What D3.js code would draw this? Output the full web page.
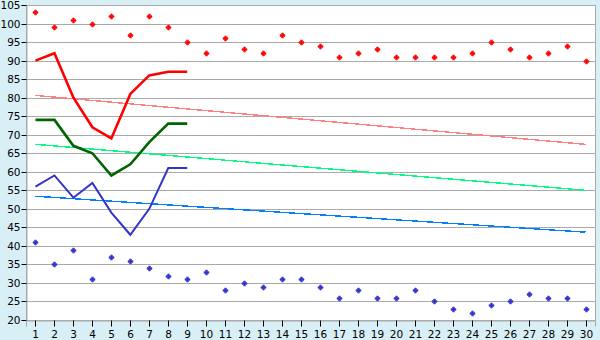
<!DOCTYPE html>
<html>
<head>
<meta charset="utf-8">
<script src="https://cdn.jsdelivr.net/npm/d3@7/dist/d3.min.js"></script>
<style>
  body { margin: 0; background: #d9eff6; }
  svg { display: block; font-family: "DejaVu Sans", Verdana, sans-serif; }
</style>
</head>
<body>
<svg id="chart" width="600" height="340"></svg>
<script>
// categories (x axis)
const days = [1, 2, 3, 4, 5, 6, 7, 8, 9, 10, 11, 12, 13, 14, 15,
  16, 17, 18, 19, 20, 21, 22, 23, 24, 25, 26, 27, 28, 29, 30];
const yTicks = [20, 25, 30, 35, 40, 45, 50, 55, 60, 65, 70, 75, 80, 85, 90, 95, 100, 105];

// scatter series (one value per day)
const highPoints = [103, 99, 101, 100, 102, 97, 102, 99, 95, 92, 96, 93, 92, 97, 95,
  94, 91, 92, 93, 91, 91, 91, 91, 92, 95, 93, 91, 92, 94, 90];
const lowPoints = [41, 35, 39, 31, 37, 36, 34, 32, 31, 33, 28, 30, 29, 31, 31,
  29, 26, 28, 26, 26, 28, 25, 23, 22, 24, 25, 27, 26, 26, 23];

// line series (first nine days)
const lineDays = [1, 2, 3, 4, 5, 6, 7, 8, 9];
const redLine = [90, 92, 80, 72, 69, 81, 86, 87, 87];
const greenLine = [74, 74, 67, 65, 59, 62, 68, 73, 73];
const blueLine = [56, 59, 53, 57, 49, 43, 50, 61, 61];

// trend lines (value at first and last day)
const trendDays = [1, 30];
const redTrend = [80.6, 67.4];
const greenTrend = [67.4, 55];
const blueTrend = [53.4, 43.7];

const W = 600, H = 340;
const plotLeft = 26, plotRight = 595, plotTop = 5, plotBottom = 320;
const FONT = '"DejaVu Sans", Verdana, sans-serif';

const svg = d3.select('#chart');

const x = d3.scaleLinear().domain([0.5, 30.5]).range([plotLeft, plotRight]);
const y = d3.scaleLinear().domain([20, 105]).range([plotBottom, plotTop]);
const py = v => Math.round(y(v)) + 0.5;
const px = v => Math.round(x(v)) + 0.5;

svg.append('rect')
  .attr('width', W).attr('height', H)
  .attr('fill', '#d9eff6');

svg.append('rect')
  .attr('x', plotLeft + 0.5).attr('y', plotTop + 0.5)
  .attr('width', plotRight - plotLeft).attr('height', plotBottom - plotTop)
  .attr('fill', '#ffffff')
  .attr('stroke', '#aaaaaa')
  .attr('stroke-width', 1);

// horizontal grid
svg.append('g')
  .selectAll('line')
  .data(yTicks)
  .enter()
  .append('line')
  .attr('x1', plotLeft).attr('x2', plotRight + 0.5)
  .attr('y1', d => py(d))
  .attr('y2', d => py(d))
  .attr('stroke', '#aaaaaa')
  .attr('stroke-width', 1);

// axes
const yAxis = d3.axisLeft(y).tickValues(yTicks).tickSize(5).tickPadding(1);
const gy = svg.append('g')
  .attr('transform', `translate(${plotLeft + 0.5},0)`)
  .call(yAxis);
gy.select('.domain').attr('stroke', '#aaaaaa');
gy.selectAll('.tick').attr('transform', d => `translate(0,${py(d)})`);
gy.selectAll('.tick line').attr('stroke', '#000');
gy.selectAll('.tick text')
  .attr('fill', '#000')
  .style('font-size', '10.5px')
  .style('font-family', FONT);

const xAxis = d3.axisBottom(x).tickValues(days).tickSize(6).tickPadding(4)
  .tickFormat(d3.format('d'));
const gx = svg.append('g')
  .attr('transform', `translate(0,${plotBottom + 0.5})`)
  .call(xAxis);
gx.select('.domain').attr('stroke', '#aaaaaa');
gx.selectAll('.tick').attr('transform', d => `translate(${px(d)},0)`);
gx.selectAll('.tick line').attr('stroke', '#000');
gx.selectAll('.tick text')
  .attr('fill', '#000')
  .style('font-size', '10.5px')
  .style('font-family', FONT);

const line = d3.line()
  .x(d => x(d[0]))
  .y(d => y(d[1]));

// trend lines
const trends = [
  { vals: redTrend, color: '#ff8080' },
  { vals: greenTrend, color: '#00ff80' },
  { vals: blueTrend, color: '#0080ff' }
];
trends.forEach(t => {
  svg.append('path')
    .datum(trendDays.map((d, i) => [d, t.vals[i]]))
    .attr('d', line)
    .attr('fill', 'none')
    .attr('stroke', t.color)
    .attr('stroke-width', 1.4)
    .attr('shape-rendering', 'crispEdges');
});

// main lines
const series = [
  { vals: redLine, color: '#ff0000', width: 2.6 },
  { vals: greenLine, color: '#006400', width: 2.6 },
  { vals: blueLine, color: '#3333cc', width: 2 }
];
series.forEach(s => {
  svg.append('path')
    .datum(lineDays.map((d, i) => [d, s.vals[i]]))
    .attr('d', line)
    .attr('fill', 'none')
    .attr('stroke', s.color)
    .attr('stroke-width', s.width)
    .attr('stroke-linejoin', 'miter');
});

// scatter markers
const cross = d3.symbol().type(d3.symbolCross).size(12);
const markers = [
  { vals: highPoints, color: '#ff0000' },
  { vals: lowPoints, color: '#3333cc' }
];
markers.forEach(m => {
  svg.append('g')
    .selectAll('path')
    .data(days.map((d, i) => [d, m.vals[i]]))
    .enter()
    .append('path')
    .attr('d', cross)
    .attr('transform', d => `translate(${px(d[0])},${py(d[1])})`)
    .attr('fill', m.color)
    .attr('stroke', m.color)
    .attr('stroke-width', 0.9)
    .attr('stroke-linejoin', 'round');
});
</script>
</body>
</html>
